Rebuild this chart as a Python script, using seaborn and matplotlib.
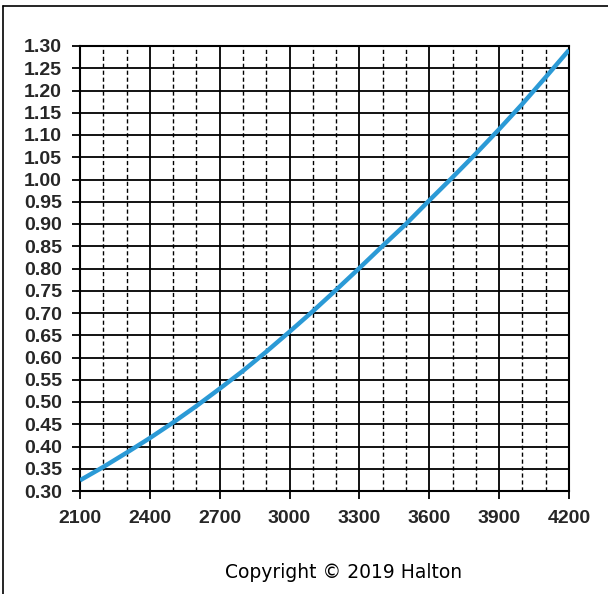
import matplotlib
matplotlib.use("Agg")
import matplotlib.pyplot as plt
from matplotlib.lines import Line2D
import pandas as pd
import seaborn as sns

# Curve read at every 100 units along the x axis
x_values = [2100, 2200, 2300, 2400, 2500, 2600, 2700, 2800, 2900, 3000, 3100,
            3200, 3300, 3400, 3500, 3600, 3700, 3800, 3900, 4000, 4100, 4200]
y_values = [0.324, 0.354, 0.386, 0.419, 0.454, 0.491, 0.530, 0.570, 0.613, 0.658, 0.704,
            0.752, 0.801, 0.851, 0.900, 0.953, 1.005, 1.058, 1.113, 1.170, 1.230, 1.291]

x_major_ticks = [2100, 2400, 2700, 3000, 3300, 3600, 3900, 4200]
x_minor_lines = [2200, 2300, 2500, 2600, 2800, 2900, 3100, 3200, 3400, 3500,
                 3700, 3800, 4000, 4100]
y_ticks = [0.30, 0.35, 0.40, 0.45, 0.50, 0.55, 0.60, 0.65, 0.70, 0.75, 0.80,
           0.85, 0.90, 0.95, 1.00, 1.05, 1.10, 1.15, 1.20, 1.25, 1.30]
footer = "Copyright \u00a9 2019 Halton"

sns.set_style("white")
plt.rcParams["font.family"] = ["Liberation Sans", "DejaVu Sans"]

df = pd.DataFrame({"x": x_values, "y": y_values})

W, H = 608, 594
fig = plt.figure(figsize=(W / 100, H / 100), dpi=100)
ax = fig.add_axes([80 / W, 1 - 491 / H, (569 - 80) / W, (491 - 46) / H])

# grid: solid horizontals, solid verticals at labelled ticks, dashed in between
for yv in y_ticks:
    ax.axhline(yv, color="black", lw=1.3, zorder=1)
for xv in x_major_ticks:
    ax.axvline(xv, color="black", lw=1.3, zorder=1)
for xv in x_minor_lines:
    ax.axvline(xv, color="black", lw=1.0, ls=(0, (3, 2)), zorder=1)

sns.lineplot(data=df, x="x", y="y", ax=ax, color="#2B9AD6", lw=3.2, zorder=3,
             solid_capstyle="butt")

ax.set_xlim(2100, 4200)
ax.set_ylim(0.30, 1.30)
ax.set_xticks(x_major_ticks)
ax.set_yticks(y_ticks)
ax.set_xticklabels([str(v) for v in x_major_ticks])
ax.set_yticklabels([f"{v:.2f}" for v in y_ticks])
ax.tick_params(axis="both", which="major", direction="out", length=6, width=1.3,
               color="black", labelsize=14, bottom=True, left=True)
ax.tick_params(axis="y", pad=7)
ax.tick_params(axis="x", pad=8)
for lab in ax.get_xticklabels() + ax.get_yticklabels():
    lab.set_fontweight("bold")
ax.set_xlabel("")
ax.set_ylabel("")
for sp in ax.spines.values():
    sp.set_color("black")
    sp.set_linewidth(1.5)
    sp.set_visible(True)

# outer frame: top and left edges only
fig.add_artist(Line2D([3 / W, 1], [1 - 6 / H, 1 - 6 / H], color="black", lw=1.2,
                      transform=fig.transFigure))
fig.add_artist(Line2D([3 / W, 3 / W], [0, 1 - 6 / H], color="black", lw=1.2,
                      transform=fig.transFigure))

fig.text(344 / W, 1 - 573 / H, footer, ha="center", va="center", fontsize=13.5,
         family=["DejaVu Sans"], color="black")

fig.savefig("out.png", dpi=100, facecolor="white")
